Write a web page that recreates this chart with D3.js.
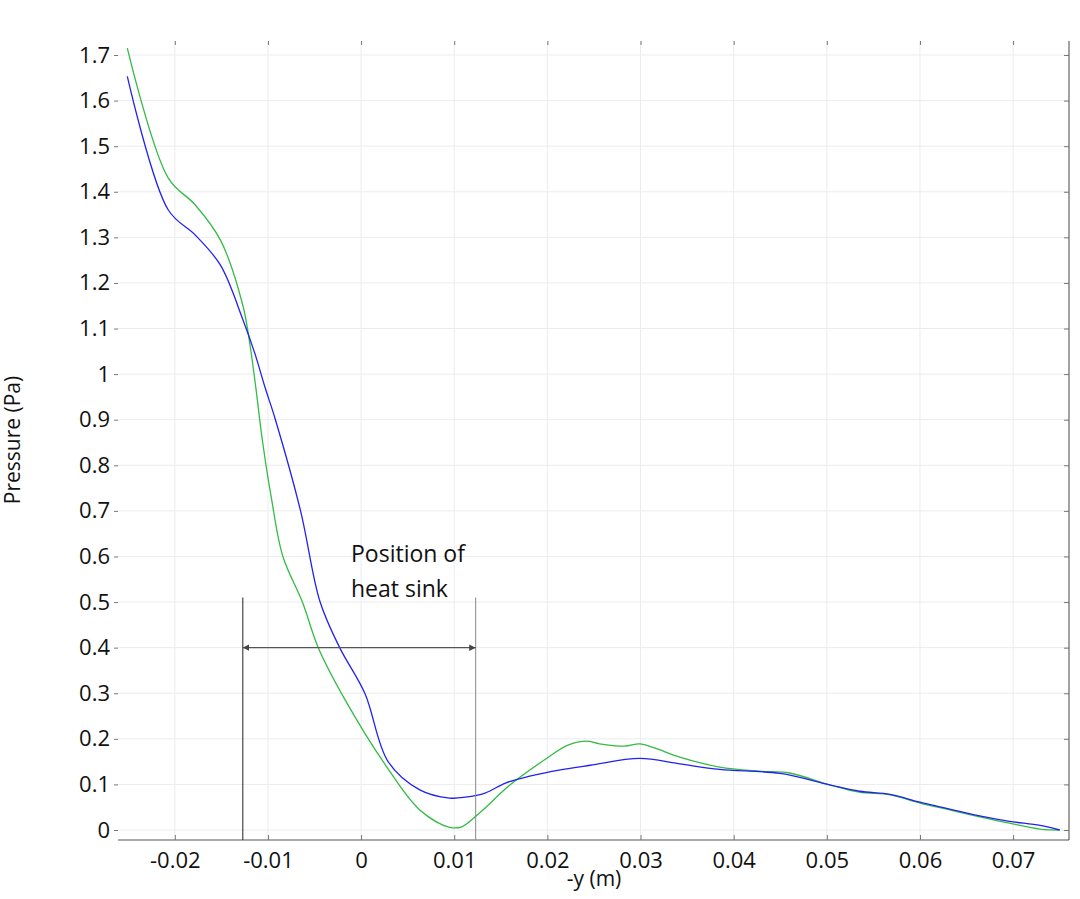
<!DOCTYPE html><html><head><meta charset="utf-8"><script src="https://cdn.jsdelivr.net/npm/d3@7"></script>
<style>body{margin:0;background:#fff}text{font-family:"Open Sans","Noto Sans",sans-serif}</style></head><body><svg id="c" width="1080" height="899"></svg>
<script>
const greenX=[-0.0251,-0.0207,-0.0178,-0.0151,-0.0127,-0.0119,-0.0113,-0.0106,-0.0096,-0.0084,-0.0063,-0.0046,-0.0017,0.0026,0.0063,0.0095,0.0108,0.0128,0.0160,0.0197,0.0222,0.0242,0.0256,0.0283,0.0299,0.0315,0.0342,0.0385,0.0428,0.0460,0.0503,0.0535,0.0568,0.0600,0.0632,0.0664,0.0696,0.0729,0.0750];
const greenY=[1.715,1.430,1.371,1.294,1.151,1.06,0.97,0.855,0.724,0.60,0.50,0.40,0.285,0.143,0.044,0.006,0.007,0.039,0.099,0.154,0.186,0.195,0.189,0.184,0.189,0.180,0.160,0.138,0.129,0.125,0.099,0.083,0.077,0.059,0.044,0.029,0.015,0.002,0.0];
const blueX=[-0.0251,-0.0207,-0.0178,-0.0151,-0.0127,-0.0114,-0.0103,-0.0092,-0.0065,-0.0044,-0.0023,0.0004,0.0029,0.0063,0.0095,0.0112,0.0133,0.0155,0.0181,0.0214,0.0246,0.0299,0.0342,0.0385,0.0450,0.0503,0.0535,0.0568,0.0600,0.0632,0.0664,0.0696,0.0729,0.0750];
const blueY=[1.653,1.360,1.305,1.239,1.12,1.045,0.97,0.90,0.70,0.50,0.40,0.30,0.15,0.088,0.070,0.072,0.081,0.103,0.118,0.132,0.142,0.157,0.145,0.133,0.124,0.099,0.085,0.078,0.061,0.046,0.031,0.019,0.010,0.0];
const xTicks=[-0.02,-0.01,0,0.01,0.02,0.03,0.04,0.05,0.06,0.07];
const yTicks=[0,0.1,0.2,0.3,0.4,0.5,0.6,0.7,0.8,0.9,1,1.1,1.2,1.3,1.4,1.5,1.6,1.7];
const sinkStart=-0.0127, sinkEnd=0.0123, arrowY=0.40, sinkTop=0.51;
const svg=d3.select("#c");
const x=d3.scaleLinear().domain([-0.0261,0.0760]).range([118,1069]);
const y=d3.scaleLinear().domain([0,1.7]).range([830,55]);
const yb=840, yt=41;
svg.append("g").selectAll("line").data(xTicks).join("line").attr("x1",d=>x(d)).attr("x2",d=>x(d)).attr("y1",yt).attr("y2",yb).attr("stroke","#ececec");
svg.append("g").selectAll("line").data(yTicks).join("line").attr("x1",118).attr("x2",1069).attr("y1",d=>y(d)).attr("y2",d=>y(d)).attr("stroke","#ececec");
const fmt=d=>String(+d.toFixed(3));
const ax=svg.append("g").attr("transform",`translate(0,${yb})`).call(d3.axisBottom(x).tickValues(xTicks).tickFormat(fmt).tickSize(-5).tickPadding(12));
ax.select(".domain").attr("stroke","#555").attr("d",`M118,0H1069`);
const ay=svg.append("g").attr("transform","translate(118,0)").call(d3.axisLeft(y).tickValues(yTicks).tickFormat(fmt).tickSize(4).tickPadding(4));
ay.select(".domain").remove();
const ar=svg.append("g").attr("transform","translate(1069,0)").call(d3.axisLeft(y).tickValues(yTicks).tickFormat("").tickSize(5));
ar.select(".domain").attr("stroke","#444").attr("d",`M0,${yt}V${yb}`);
const at=svg.append("g").attr("transform",`translate(0,${yt})`).call(d3.axisBottom(x).tickValues(xTicks).tickFormat("").tickSize(4));
at.select(".domain").remove();
svg.selectAll(".tick line").attr("stroke","#777");
svg.selectAll(".tick text").attr("font-size",22).attr("fill","#111").style("font-family","'Open Sans'");
const line=d3.line().x(d=>x(d[0])).y(d=>y(d[1])).curve(d3.curveCatmullRom);
svg.append("path").datum(greenX.map((v,i)=>[v,greenY[i]])).attr("d",line).attr("fill","none").attr("stroke","#33bb44").attr("stroke-width",1.3);
svg.append("path").datum(blueX.map((v,i)=>[v,blueY[i]])).attr("d",line).attr("fill","none").attr("stroke","#2222ee").attr("stroke-width",1.3);
svg.append("line").attr("x1",x(sinkStart)).attr("x2",x(sinkStart)).attr("y1",y(sinkTop)).attr("y2",yb).attr("stroke","#222");
svg.append("line").attr("x1",x(sinkEnd)).attr("x2",x(sinkEnd)).attr("y1",y(sinkTop)).attr("y2",yb).attr("stroke","#888");
svg.append("defs").html('<marker id="a" viewBox="0 0 6 6" refX="6" refY="3" markerWidth="5" markerHeight="5" orient="auto-start-reverse"><path d="M0,0L6,3L0,6z" fill="#444"/></marker>');
svg.append("line").attr("x1",x(sinkStart)).attr("x2",x(sinkEnd)).attr("y1",y(arrowY)).attr("y2",y(arrowY)).attr("stroke","#555").attr("stroke-width",1.3).attr("marker-start","url(#a)").attr("marker-end","url(#a)");
svg.append("text").attr("x",351).attr("y",562).attr("font-size",23).attr("fill","#111").text("Position of");
svg.append("text").attr("x",351).attr("y",597).attr("font-size",23).attr("fill","#111").text("heat sink");
svg.append("text").attr("x",594).attr("y",886).attr("text-anchor","middle").attr("font-size",21).attr("fill","#111").text("-y (m)");
svg.append("text").attr("transform","translate(20,440) rotate(-90)").attr("text-anchor","middle").attr("font-size",21).attr("fill","#111").text("Pressure (Pa)");
</script></body></html>
